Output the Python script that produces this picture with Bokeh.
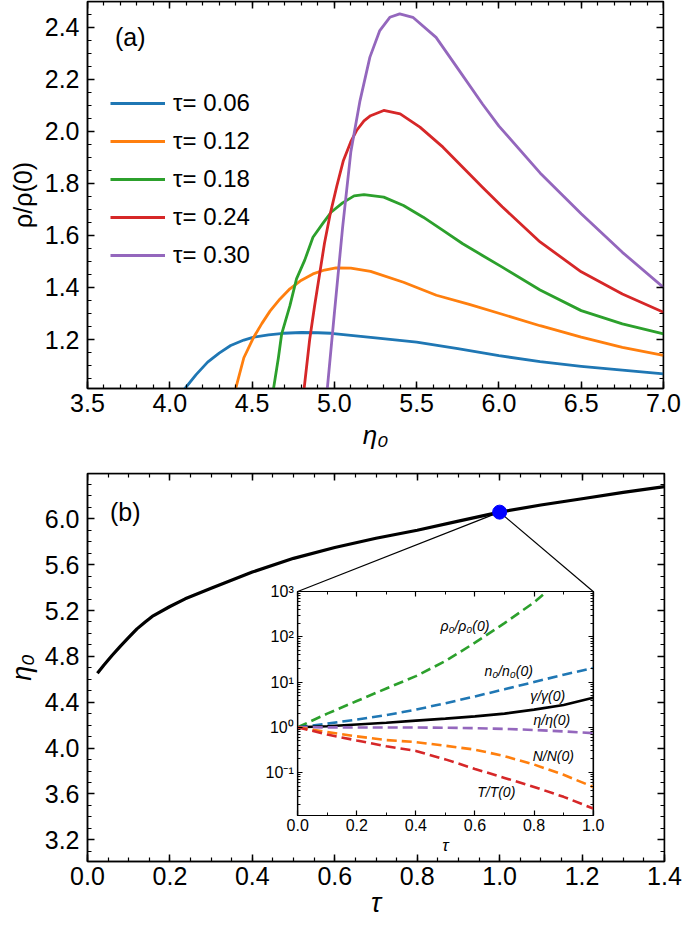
import numpy as np
from bokeh.plotting import figure
from bokeh.layouts import column
from bokeh.models import (LinearAxis, LogAxis, Range1d, SingleIntervalTicker, FixedTicker,
                          Label, Legend, LegendItem, CustomJSTickFormatter, LogScale)
from bokeh.embed import file_html
from bokeh.resources import INLINE

FONT = "Liberation Sans"

# ---------------- data: panel (a) ----------------
tau_labels = ["τ= 0.06", "τ= 0.12", "τ= 0.18", "τ= 0.24", "τ= 0.30"]
colors = ["#1f77b4", "#ff7f0e", "#2ca02c", "#d62728", "#9467bd"]

eta_006 = [4.09, 4.16, 4.23, 4.3, 4.37, 4.45, 4.51, 4.6, 4.69, 4.8, 4.9, 4.98, 5.1, 5.25, 5.5, 5.75, 6.0, 6.25, 6.5, 6.75, 7.0]
rho_006 = [1.01, 1.065, 1.113, 1.148, 1.177, 1.198, 1.209, 1.218, 1.224, 1.227, 1.226, 1.224, 1.216, 1.206, 1.19, 1.165, 1.138, 1.115, 1.097, 1.082, 1.068]

eta_012 = [4.40, 4.45, 4.51, 4.56, 4.61, 4.67, 4.73, 4.8, 4.87, 4.94, 5.01, 5.1, 5.22, 5.42, 5.62, 5.82, 6.02, 6.25, 6.5, 6.75, 7.0]
rho_012 = [1.01, 1.13, 1.209, 1.262, 1.31, 1.356, 1.395, 1.428, 1.452, 1.467, 1.475, 1.474, 1.462, 1.42, 1.37, 1.335, 1.297, 1.253, 1.209, 1.17, 1.139]

eta_018 = [4.63, 4.66, 4.68, 4.73, 4.77, 4.82, 4.87, 4.93, 4.98, 5.05, 5.12, 5.18, 5.3, 5.42, 5.54, 5.66, 5.78, 5.9, 6.02, 6.25, 6.5, 6.75, 7.0]
rho_018 = [1.01, 1.13, 1.222, 1.33, 1.433, 1.505, 1.593, 1.646, 1.689, 1.725, 1.752, 1.757, 1.747, 1.715, 1.67, 1.619, 1.568, 1.523, 1.478, 1.39, 1.311, 1.26, 1.222]

eta_024 = [4.816, 4.85, 4.88, 4.91, 4.94, 4.975, 5.015, 5.055, 5.1, 5.135, 5.18, 5.22, 5.3, 5.4, 5.52, 5.66, 5.78, 5.9, 6.02, 6.25, 6.5, 6.75, 7.0]
rho_024 = [1.01, 1.20, 1.33, 1.45, 1.57, 1.683, 1.79, 1.888, 1.96, 2.003, 2.04, 2.06, 2.08, 2.067, 2.016, 1.939, 1.862, 1.785, 1.71, 1.575, 1.46, 1.375, 1.305]

eta_030 = [4.957, 5.0, 5.05, 5.1, 5.156, 5.216, 5.276, 5.337, 5.397, 5.477, 5.618, 5.759, 5.9, 6.0, 6.25, 6.5, 6.75, 7.0]
rho_030 = [1.01, 1.30, 1.63, 1.92, 2.118, 2.285, 2.387, 2.438, 2.451, 2.438, 2.361, 2.233, 2.105, 2.02, 1.84, 1.683, 1.535, 1.40]

# ---------------- data: panel (b) ----------------
tau_b = [0.024, 0.04, 0.06, 0.08, 0.1, 0.12, 0.14, 0.157, 0.2, 0.237, 0.3, 0.4, 0.5, 0.6, 0.7, 0.8, 0.9, 1.0, 1.1, 1.2, 1.3, 1.4]
eta_b = [4.653, 4.725, 4.81, 4.89, 4.965, 5.04, 5.10, 5.148, 5.235, 5.302, 5.395, 5.535, 5.655, 5.75, 5.83, 5.90, 5.98, 6.058, 6.12, 6.175, 6.23, 6.28]
tau_marker = 1.0

# ---------------- data: inset ----------------
tau_in = [0.0, 0.1, 0.2, 0.3, 0.4, 0.5, 0.6, 0.7, 0.8, 0.9, 1.0]
tau_rho0 = [0.0, 0.1, 0.2, 0.3, 0.4, 0.5, 0.6, 0.7, 0.8, 0.843]
rho0_ratio = [1, 2.0, 3.8, 7.2, 13.5, 29, 74, 200, 575, 1000]
n0_ratio = [1, 1.2, 1.48, 1.86, 2.45, 3.4, 4.8, 6.9, 10.0, 14.5, 20.4]
gamma_ratio = [1, 1.05, 1.15, 1.26, 1.40, 1.55, 1.74, 2.0, 2.45, 3.1, 4.47]
eta_ratio = [1, 0.995, 0.99, 0.988, 0.985, 0.975, 0.955, 0.92, 0.87, 0.81, 0.74]
N_ratio = [1, 0.78, 0.63, 0.52, 0.47, 0.39, 0.32, 0.23, 0.15, 0.089, 0.048]
T_ratio = [1, 0.69, 0.51, 0.38, 0.30, 0.195, 0.12, 0.076, 0.048, 0.029, 0.016]
inset_names = ["ρ₀/ρ₀(0)", "n₀/n₀(0)", "γ/γ(0)", "η/η(0)", "N/N(0)", "T/T(0)"]
inset_colors = ["#2ca02c", "#1f77b4", "black", "#9467bd", "#ff7f0e", "#d62728"]
inset_label_pos = [(0.566, 174), (0.714, 17.2), (0.846, 5.0), (0.86, 1.46), (0.865, 0.23), (0.672, 0.037)]
inset_xlim = (0.0, 1.0)
inset_ylim = (10 ** -1.95, 1000.0)

EPS = 1e-9  # keeps the last tick on the range despite float rounding


def fmt1():
    return CustomJSTickFormatter(code="return tick.toFixed(1)")


def style_axis(ax, size="25px", standoff=8, lw=1.5, major_in=7, minor_in=4):
    ax.major_label_text_font = FONT
    ax.major_label_text_font_size = size
    ax.major_label_text_color = "black"
    ax.major_tick_in = major_in
    ax.major_tick_out = 0
    ax.minor_tick_in = minor_in
    ax.minor_tick_out = 0
    ax.axis_line_width = lw
    ax.axis_line_color = "black"
    ax.major_tick_line_width = lw
    ax.minor_tick_line_width = lw * 0.8
    ax.major_tick_line_color = "black"
    ax.minor_tick_line_color = "black"
    ax.major_label_standoff = standoff
    ax.axis_label_text_font = FONT
    ax.axis_label_text_color = "black"


def blank_axis(cls, ticker, loc, lw=1.5, major_in=7, minor_in=4, **kw):
    ax = cls(ticker=ticker, formatter=CustomJSTickFormatter(code="return ''"), fixed_location=loc, **kw)
    style_axis(ax, size="0px", standoff=0, lw=lw, major_in=major_in, minor_in=minor_in)
    return ax


def base_fig(**kw):
    p = figure(output_backend="svg", toolbar_location=None, **kw)
    p.grid.visible = False
    p.outline_line_color = "black"
    p.outline_line_width = 1.5
    p.background_fill_color = "white"
    return p


# ---------------- panel (a) ----------------
p1 = base_fig(width=684, height=460, min_border_left=82, min_border_right=21,
              min_border_top=1, min_border_bottom=72,
              x_range=Range1d(3.5, 7.0 + EPS), y_range=Range1d(1.0118, 2.4987))
xt1 = SingleIntervalTicker(interval=0.5, num_minor_ticks=5)
yt1 = SingleIntervalTicker(interval=0.2, num_minor_ticks=4)
p1.xaxis.ticker = xt1
p1.yaxis.ticker = yt1
for ax in p1.xaxis + p1.yaxis:
    style_axis(ax)
    ax.formatter = fmt1()
p1.xaxis.major_label_standoff = 5
p1.xaxis.axis_label = "η₀"
p1.xaxis.axis_label_text_font_size = "26px"
p1.xaxis.axis_label_text_font_style = "italic"
p1.xaxis.axis_label_standoff = 5
p1.yaxis.axis_label = "ρ/ρ(0)"
p1.yaxis.axis_label_text_font_size = "25px"
p1.yaxis.axis_label_text_font_style = "normal"
p1.yaxis.axis_label_standoff = 5
p1.add_layout(blank_axis(LinearAxis, xt1, p1.y_range.end), "above")
p1.add_layout(blank_axis(LinearAxis, yt1, p1.x_range.end), "right")

curves = [(eta_006, rho_006), (eta_012, rho_012), (eta_018, rho_018), (eta_024, rho_024), (eta_030, rho_030)]
items = []
for (ex, ry), c, lab in zip(curves, colors, tau_labels):
    r = p1.line(ex, ry, line_color=c, line_width=2.8, line_join="round")
    items.append(LegendItem(label=lab, renderers=[r]))
leg = Legend(items=items, location=(23, 119), glyph_width=55, glyph_height=28, label_height=28,
             spacing=10, label_standoff=8, padding=0, margin=0,
             label_text_font=FONT, label_text_font_size="24px", label_text_color="black",
             border_line_color=None, background_fill_alpha=0)
p1.add_layout(leg)
p1.add_layout(Label(x=3.76, y=2.364, text="(a)", text_align="center", text_baseline="middle",
                    text_font=FONT, text_font_size="25px", text_color="black"))

# ---------------- panel (b) ----------------
p2 = base_fig(width=685, height=471, min_border_left=87, min_border_right=18,
              min_border_top=13, min_border_bottom=70,
              x_range=Range1d(0.0, 1.4 + EPS), y_range=Range1d(3.011, 6.395))
xt2 = SingleIntervalTicker(interval=0.2, num_minor_ticks=4)
yt2 = SingleIntervalTicker(interval=0.4, num_minor_ticks=4)
p2.xaxis.ticker = xt2
p2.yaxis.ticker = yt2
for ax in p2.xaxis + p2.yaxis:
    style_axis(ax)
    ax.formatter = fmt1()
p2.xaxis.major_label_standoff = 5
p2.xaxis.axis_label = "τ"
p2.xaxis.axis_label_text_font_size = "27px"
p2.xaxis.axis_label_text_font_style = "italic"
p2.xaxis.axis_label_standoff = 0
p2.yaxis.axis_label = "η₀"
p2.yaxis.axis_label_text_font_size = "27px"
p2.yaxis.axis_label_text_font_style = "italic"
p2.yaxis.axis_label_standoff = 5
p2.add_layout(blank_axis(LinearAxis, xt2, p2.y_range.end), "above")
p2.add_layout(blank_axis(LinearAxis, yt2, p2.x_range.end), "right")

p2.line(tau_b, eta_b, line_color="black", line_width=3.2, line_join="round")

# --- inset placement: frame of panel (b) and of the inset, in page pixels ---
F2_LEFT, F2_TOP, F2_W, F2_H = 87, 473, 580, 388
IN_LEFT, IN_TOP, IN_W, IN_H = 298.3, 591, 297, 224

px_per_x = IN_W / (inset_xlim[1] - inset_xlim[0])
ix0 = inset_xlim[0] - (IN_LEFT - F2_LEFT) / px_per_x
ix1 = inset_xlim[1] + (F2_LEFT + F2_W - IN_LEFT - IN_W) / px_per_x
ly_lo, ly_hi = np.log10(inset_ylim[0]), np.log10(inset_ylim[1])
dec_per_px = (ly_hi - ly_lo) / IN_H
iy1 = ly_hi + (IN_TOP - F2_TOP) * dec_per_px
iy0 = ly_lo - (F2_TOP + F2_H - IN_TOP - IN_H) * dec_per_px
p2.extra_x_ranges = {"ix": Range1d(ix0, ix1)}
p2.extra_y_ranges = {"iy": Range1d(10 ** iy0, 10 ** iy1)}
p2.extra_y_scales = {"iy": LogScale()}


def px_to_data(px, py):
    xr, yr = p2.x_range, p2.y_range
    x = xr.start + (px - F2_LEFT) / F2_W * (xr.end - xr.start)
    y = yr.end - (py - F2_TOP) / F2_H * (yr.end - yr.start)
    return x, y


i_m = tau_b.index(tau_marker)
mx, my = tau_b[i_m], eta_b[i_m]
cl = px_to_data(IN_LEFT, IN_TOP)
cr = px_to_data(IN_LEFT + IN_W, IN_TOP)
p2.segment(x0=[mx, mx], y0=[my, my], x1=[cl[0], cr[0]], y1=[cl[1], cr[1]],
           line_color="black", line_width=1.2)
p2.scatter([mx], [my], size=14, fill_color="#0000ff", line_color="#0000ff")
p2.add_layout(Label(x=0.0917, y=6.058, text="(b)", text_align="center", text_baseline="middle",
                    text_font=FONT, text_font_size="25px", text_color="black"))

p2.quad(left=[inset_xlim[0]], right=[inset_xlim[1]], bottom=[inset_ylim[0]], top=[inset_ylim[1]],
        x_range_name="ix", y_range_name="iy", fill_color="white", line_color="black", line_width=1.2)

xt3 = SingleIntervalTicker(interval=0.2, num_minor_ticks=2)
major_log = [0.1, 1.0, 10.0, 100.0, 1000.0]
minor_log = [k * 10.0 ** e for e in range(-2, 3) for k in range(2, 10)]
yt3 = FixedTicker(ticks=major_log, minor_ticks=minor_log)
sup_fmt = CustomJSTickFormatter(code="""
const e = Math.round(Math.log10(tick));
const sup = {"-":"\u207b","0":"\u2070","1":"\u00b9","2":"\u00b2","3":"\u00b3","4":"\u2074","5":"\u2075","6":"\u2076","7":"\u2077","8":"\u2078","9":"\u2079"};
return "10" + String(e).split("").map(c => sup[c]).join("");
""")

ax_il = LogAxis(ticker=yt3, formatter=sup_fmt, x_range_name="ix", y_range_name="iy",
                fixed_location=inset_xlim[0], bounds=inset_ylim)
style_axis(ax_il, size="16px", standoff=4, lw=1.2, major_in=5, minor_in=3)
p2.add_layout(ax_il, "left")

ax_ib = LinearAxis(ticker=xt3, formatter=fmt1(), x_range_name="ix", y_range_name="iy",
                   fixed_location=inset_ylim[0], bounds=(inset_xlim[0], inset_xlim[1] + EPS), axis_label="τ")
style_axis(ax_ib, size="16px", standoff=3, lw=1.2, major_in=5, minor_in=3)
ax_ib.axis_label_text_font_size = "17px"
ax_ib.axis_label_text_font_style = "italic"
ax_ib.axis_label_standoff = 2
p2.add_layout(ax_ib, "below")

p2.add_layout(blank_axis(LogAxis, yt3, inset_xlim[1], lw=1.2, major_in=5, minor_in=3,
                         x_range_name="ix", y_range_name="iy", bounds=inset_ylim), "right")
p2.add_layout(blank_axis(LinearAxis, xt3, inset_ylim[1], lw=1.2, major_in=5, minor_in=3,
                         x_range_name="ix", y_range_name="iy", bounds=inset_xlim), "above")

series = [(tau_rho0, rho0_ratio), (tau_in, n0_ratio), (tau_in, gamma_ratio),
          (tau_in, eta_ratio), (tau_in, N_ratio), (tau_in, T_ratio)]
for (tx, s), c, nm in zip(series, inset_colors, inset_names):
    dash = "solid" if nm.startswith("γ") else "10 5"
    p2.line(tx, s, line_color=c, line_width=2.6, line_dash=dash,
            x_range_name="ix", y_range_name="iy")
for nm, (lx, ly) in zip(inset_names, inset_label_pos):
    p2.add_layout(Label(x=lx, y=ly, text=nm, text_align="center", text_baseline="middle",
                        x_range_name="ix", y_range_name="iy",
                        text_font=FONT, text_font_size="14px", text_font_style="italic",
                        text_color="black"))

layout = column(p1, p2, spacing=0)

open("out.html", "w").write(file_html(layout, INLINE))
